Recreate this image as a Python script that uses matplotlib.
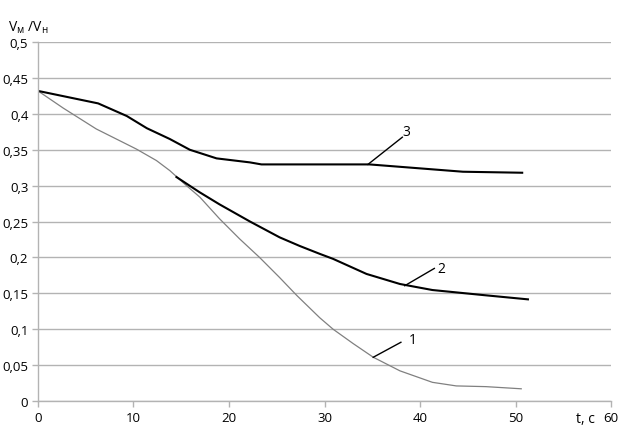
import matplotlib.pyplot as plt
from matplotlib.ticker import FuncFormatter, MultipleLocator

plt.rcParams['font.family'] = ['Open Sans', 'DejaVu Sans']

# кривая 1 (тонкая серая)
t1 = [0, 2.65, 6.1, 10.3, 12.4, 13.8, 15.55, 16.95, 19.0, 21.1, 23.2, 25.3, 27.1,
      29.5, 30.9, 33.0, 35.1, 37.9, 41.3, 43.8, 46.9, 50.6]
v1 = [0.432, 0.408, 0.379, 0.351, 0.335, 0.321, 0.300, 0.284, 0.254, 0.226, 0.200,
      0.172, 0.147, 0.116, 0.100, 0.080, 0.061, 0.042, 0.026, 0.021, 0.020, 0.017]

# кривая 2
t2 = [14.5, 16.9, 19.0, 22.2, 25.3, 27.4, 29.5, 30.9, 34.4, 37.9, 41.3, 46.6, 51.3]
v2 = [0.312, 0.291, 0.274, 0.250, 0.228, 0.216, 0.205, 0.198, 0.177, 0.163, 0.1546, 0.1476, 0.1416]

# кривая 3
t3 = [0, 6.3, 9.3, 11.4, 13.8, 15.9, 18.7, 22.2, 23.4, 34.7, 44.5, 50.7]
v3 = [0.432, 0.4146, 0.397, 0.380, 0.365, 0.350, 0.338, 0.3324, 0.3296, 0.3296, 0.3194, 0.318]

# подписи кривых: начало выноски, конец выноски, центр текста
labels = ['1', '2', '3']
lead_from = [(35.1, 0.0609), (38.4, 0.1606), (34.55, 0.3296)]
lead_to = [(38.0, 0.0818), (41.5, 0.1847), (38.15, 0.3675)]
text_at = [(39.2, 0.0850), (42.2, 0.1850), (38.6, 0.3760)]

fig = plt.figure(figsize=(6.27, 4.31), dpi=100)
ax = fig.add_axes([0.0606, 0.0673, 0.9139, 0.8327])

grid_c = '#b3b3b3'
ax.plot(t1, v1, color='#808080', lw=0.9)
ax.plot(t2, v2, color='black', lw=1.5)
ax.plot(t3, v3, color='black', lw=1.5)

for lab, p0, p1, pt in zip(labels, lead_from, lead_to, text_at):
    ax.plot([p0[0], p1[0]], [p0[1], p1[1]], color='black', lw=1.0)
    ax.text(pt[0], pt[1], lab, fontsize=10, ha='center', va='center')

ax.set_xlim(0, 60)
ax.set_ylim(0, 0.5)
ax.xaxis.set_major_locator(MultipleLocator(10))
ax.yaxis.set_major_locator(MultipleLocator(0.05))


def comma_fmt(x, pos):
    s = ('%.2f' % x).rstrip('0').rstrip('.')
    return s.replace('.', ',')


ax.yaxis.set_major_formatter(FuncFormatter(comma_fmt))
ax.xaxis.set_major_formatter(FuncFormatter(lambda x, p: '%d' % x))

ax.grid(axis='y', color=grid_c, lw=1.0)
ax.set_axisbelow(True)
for s in ['top', 'right']:
    ax.spines[s].set_visible(False)
for s in ['left', 'bottom']:
    ax.spines[s].set_color(grid_c)
    ax.spines[s].set_linewidth(1.0)
ax.tick_params(axis='both', color=grid_c, length=4, width=1.0, labelsize=9.5, pad=3)

fig.text(8 / 627, 1 - 28 / 431, r'V$_{\mathregular{м}}$ /V$_{\mathregular{н}}$',
         fontsize=10, ha='left', va='center')
fig.text(576 / 627, 1 - 420 / 431, 't, c', fontsize=10, ha='left', va='center')

fig.savefig('out.png', dpi=100)
